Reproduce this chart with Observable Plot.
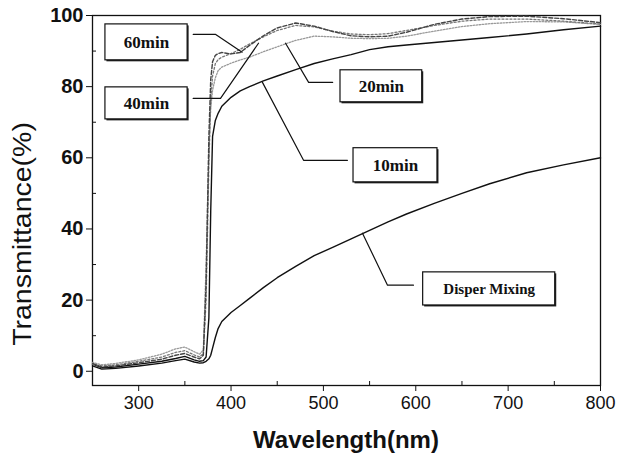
<!DOCTYPE html>
<html><head><meta charset="utf-8">
<script src="https://cdn.jsdelivr.net/npm/d3@7"></script>
<script src="https://cdn.jsdelivr.net/npm/@observablehq/plot@0.6"></script>
<style>body{margin:0;background:#fff}</style>
</head><body><div id="chart"></div>
<script>
// wavelength (nm)
const wavelength = [250, 260, 275, 300, 325, 340, 350, 360, 366, 370, 373, 376, 378, 380, 383, 386, 390, 400, 410, 420, 435, 450, 470, 490, 510, 530, 550, 570, 590, 620, 650, 680, 720, 760, 800];
// transmittance (%)
const disperMixing = [1.5, 0.6, 0.8, 1.5, 2.3, 3.0, 3.4, 2.6, 2.3, 2.4, 2.8, 3.5, 4.5, 6.5, 9.5, 12, 14, 16.5, 18.5, 20.5, 23.5, 26.3, 29.5, 32.5, 34.8, 37.2, 39.6, 42, 44.2, 47.2, 50, 52.7, 55.8, 58, 60];
const min10 = [2, 1, 1.2, 2, 2.8, 3.6, 4.2, 3.2, 2.8, 3, 4, 15, 45, 66, 70.5, 72.5, 74.5, 77, 78.8, 80, 81.6, 83, 84.8, 86.5, 87.8, 89, 90.4, 91.2, 91.7, 92.4, 93.1, 93.8, 94.8, 96, 97];
const min20 = [2.5, 1.8, 2.2, 3.2, 4.8, 6.3, 6.8, 5.5, 4.8, 6, 30, 62, 74, 79, 82.5, 84.5, 85.5, 86.6, 87.5, 88.3, 89.8, 91.2, 93, 94.2, 94, 93.6, 93.5, 93.6, 94.2, 95.6, 96.9, 97.7, 98.3, 98.2, 97.5];
const min40 = [2, 1.5, 1.8, 2.8, 4, 5.3, 5.8, 4.6, 4, 5, 20, 58, 76, 83, 86.5, 87.6, 88.3, 89.3, 90.5, 92, 94, 95.8, 97.2, 96.8, 95.6, 94.8, 94.6, 94.9, 95.8, 97.2, 98.4, 99, 99, 98.4, 97.6];
const min60 = [2.2, 1.2, 1.5, 2.4, 3.4, 4.5, 5, 4, 3.5, 4.5, 25, 66, 82, 87, 88.8, 89.3, 89.6, 89.2, 89.6, 91.6, 94.3, 96.5, 97.9, 97, 95.5, 94.3, 94, 94.2, 95.3, 97.5, 99, 99.7, 99.8, 99.1, 98];
const seriesNames = ["Disper Mixing", "10min", "20min", "40min", "60min"];
const seriesValues = [disperMixing, min10, min20, min40, min60];

// axis ticks
const xMajor = [300, 400, 500, 600, 700, 800];
const xMinor = [250, 350, 450, 550, 650, 750];
const yMajor = [0, 20, 40, 60, 80, 100];
const yMinor = [10, 30, 50, 70, 90];

// annotation labels (boxes in data units) and leader lines
const labelText = ["60min", "40min", "20min", "10min", "Disper Mixing"];
const boxX1 = [264, 264, 518.5, 532.6, 608];
const boxX2 = [353, 353, 607, 623.5, 751];
const boxY1 = [87.4, 70.8, 75.6, 53.1, 18.5];
const boxY2 = [97.5, 79.8, 84.6, 62.7, 27.8];
const leaderX = [[359, 383, 412], [359, 388.6, 429.7], [510, 484, 459], [526, 478.5, 434], [597.5, 569.4, 542.3]];
const leaderY = [[94.7, 94.7, 89.7], [76.7, 76.7, 92.2], [81.2, 81.2, 92.2], [59.3, 59.3, 81.2], [24.2, 24.2, 38.8]];

const rows = seriesNames.flatMap((name, i) => wavelength.map((w, j) => ({name, w, t: seriesValues[i][j]})));
const boxes = labelText.map((text, i) => ({text, x1: boxX1[i], x2: boxX2[i], y1: boxY1[i], y2: boxY2[i]}));
const leaders = labelText.flatMap((text, i) => leaderX[i].map((x, j) => ({text, x, y: leaderY[i][j]})));

const styles = {
  "Disper Mixing": {stroke: "#111", width: 1.4, dash: null},
  "10min": {stroke: "#111", width: 1.4, dash: null},
  "20min": {stroke: "#9a9a9a", width: 1.3, dash: "1.5,1.5"},
  "40min": {stroke: "#777", width: 1.3, dash: "2,2"},
  "60min": {stroke: "#444", width: 1.4, dash: "4,2"}
};

const plot = Plot.plot({
  width: 629, height: 459,
  marginLeft: 92, marginRight: 29, marginTop: 15, marginBottom: 74,
  x: {domain: [250, 800]},
  y: {domain: [-4, 100]},
  style: {fontFamily: "Liberation Sans, Arial, sans-serif", background: "white", color: "#111"},
  marks: [
    Plot.frame({stroke: "#111", strokeWidth: 1.3}),
    ...seriesNames.map(name => Plot.line(rows.filter(d => d.name === name), {
      x: "w", y: "t", stroke: styles[name].stroke, strokeWidth: styles[name].width,
      strokeDasharray: styles[name].dash, curve: "linear"
    })),
    Plot.line(leaders, {x: "x", y: "y", z: "text", stroke: "#111", strokeWidth: 1.2}),
    Plot.rect(boxes, {x1: "x1", x2: "x2", y1: "y1", y2: "y2", fill: "#222", dx: 1.5, dy: 1.5}),
    Plot.rect(boxes, {x1: "x1", x2: "x2", y1: "y1", y2: "y2", fill: "white", stroke: "#111", strokeWidth: 1.2}),
    Plot.text(boxes, {x: d => (d.x1 + d.x2) / 2, y: d => (d.y1 + d.y2) / 2, text: "text",
      fontFamily: "Liberation Serif, Times New Roman, serif", fontWeight: "bold",
      fontSize: d => d.text.length > 6 ? 15 : 17, fill: "#111"}),
    Plot.axisY(yMajor, {tickSize: 6, tickPadding: 3, fontSize: 20, fontWeight: "bold", label: null, stroke: "#111"}),
    Plot.axisY(yMinor, {tickSize: -4, tickFormat: () => "", label: null, stroke: "#111"}),
    Plot.axisX(xMajor, {tickSize: 6, tickPadding: 5, fontSize: 18, label: null, stroke: "#111"}),
    Plot.axisX(xMinor, {tickSize: -4, tickFormat: () => "", label: null, stroke: "#111"})
  ]
});

document.getElementById("chart").appendChild(plot);

const svg = d3.select(plot);
const xr = plot.scale("x").range;
svg.append("text")
  .attr("x", (xr[0] + xr[1]) / 2).attr("y", 448)
  .attr("text-anchor", "middle")
  .attr("font-family", "Liberation Sans, Arial, sans-serif")
  .attr("font-weight", "bold").attr("font-size", 24).attr("fill", "#111")
  .text("Wavelength(nm)");
svg.append("text")
  .attr("transform", "translate(31,234) rotate(-90) scale(1.14,1)")
  .attr("text-anchor", "middle")
  .attr("font-family", "Liberation Sans, Arial, sans-serif")
  .attr("font-size", 25).attr("fill", "#111")
  .text("Transmittance(%)");
</script>
</body></html>
